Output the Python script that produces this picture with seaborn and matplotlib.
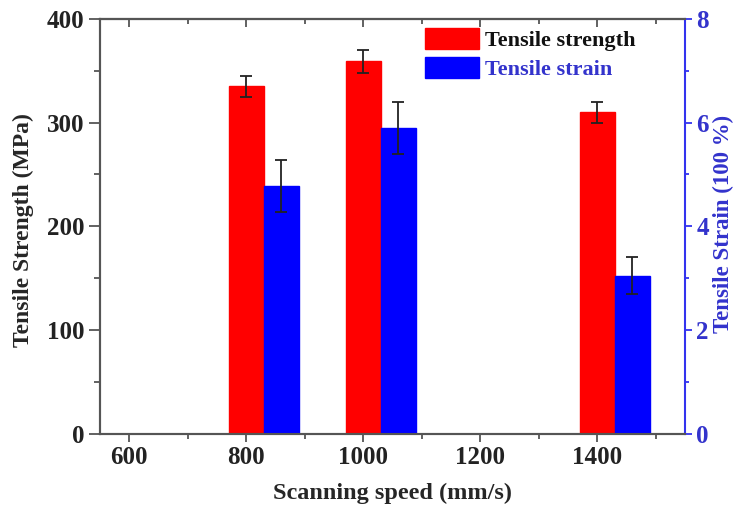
import numpy as np
import pandas as pd
import matplotlib
matplotlib.use("Agg")
import matplotlib.pyplot as plt
import seaborn as sns
from matplotlib.patches import Patch
from matplotlib.ticker import MultipleLocator

speeds = [800, 1000, 1400]
strength = [335, 359, 310]
strength_err = [10, 11, 10]
strain = [4.77, 5.9, 3.05]
strain_err = [0.5, 0.5, 0.36]
offset = 60
xticks = [600, 800, 1000, 1200, 1400]

sns.set_style("ticks")
plt.rcParams['font.family'] = ['Liberation Serif', 'DejaVu Serif']
plt.rcParams['font.weight'] = 'bold'

fig = plt.figure(figsize=(7.35, 5.08), dpi=100)
ax = fig.add_axes([0.136, 0.146, 0.796, 0.817])
ax2 = ax.twinx()

df1 = pd.DataFrame({"speed": speeds, "val": strength})
df2 = pd.DataFrame({"speed": [s + offset for s in speeds], "val": strain})

sns.barplot(data=df1, x="speed", y="val", native_scale=True, width=0.3,
            color="#ff0000", saturation=1, ax=ax, errorbar=None,
            edgecolor="#ff0000")
sns.barplot(data=df2, x="speed", y="val", native_scale=True, width=0.3,
            color="#0000ff", saturation=1, ax=ax2, errorbar=None,
            edgecolor="#0000ff")

ax.errorbar(df1["speed"], df1["val"], yerr=strength_err, fmt="none",
            ecolor="#222222", elinewidth=1.3, capsize=4, capthick=1.3)
ax2.errorbar(df2["speed"], df2["val"], yerr=strain_err, fmt="none",
             ecolor="#222222", elinewidth=1.3, capsize=4, capthick=1.3)

ax.set_xlim(550, 1550)
ax.set_ylim(0, 400)
ax2.set_ylim(0, 8)
ax.set_xticks(xticks)
ax.xaxis.set_minor_locator(MultipleLocator(100))
ax.yaxis.set_major_locator(MultipleLocator(100))
ax.yaxis.set_minor_locator(MultipleLocator(50))
ax2.yaxis.set_major_locator(MultipleLocator(2))
ax2.yaxis.set_minor_locator(MultipleLocator(1))

tick_fs = 18
ax.tick_params(axis="x", which="both", direction="out", top=False,
               labelsize=tick_fs, colors="#555555", labelcolor="#222222", width=1.3)
ax.tick_params(axis="x", which="major", length=6, pad=3)
ax.tick_params(axis="x", which="minor", length=3.5)
ax.tick_params(axis="y", which="major", direction="out", length=8, width=1.3, pad=3,
               labelsize=tick_fs, colors="#555555", labelcolor="#222222")
ax.tick_params(axis="y", which="minor", direction="out", length=4, width=1.3,
               colors="#555555")
ax2.tick_params(axis="y", which="major", direction="out", length=5, width=1.3, pad=3,
                labelsize=tick_fs, colors="#3333ee", labelcolor="#3333cc")
ax2.tick_params(axis="y", which="minor", direction="out", length=3, width=1.3,
                colors="#3333ee")

sec = ax.secondary_xaxis("top")
sec.set_xticks(xticks)
sec.xaxis.set_minor_locator(MultipleLocator(100))
sec.tick_params(axis="x", which="both", direction="in", labeltop=False,
                colors="#555555", width=1.3)
sec.tick_params(axis="x", which="major", length=6)
sec.tick_params(axis="x", which="minor", length=3.5)
sec.spines["top"].set_color("#555555")
sec.spines["top"].set_linewidth(1.5)

for sp in ["left", "bottom", "top"]:
    ax.spines[sp].set_color("#555555")
    ax.spines[sp].set_linewidth(1.5)
    ax2.spines[sp].set_color("#555555")
    ax2.spines[sp].set_linewidth(1.5)
ax2.spines["right"].set_color("#3333ee")
ax2.spines["right"].set_linewidth(1.5)
ax.spines["right"].set_visible(False)

ax.set_xlabel("Scanning speed (mm/s)", fontsize=17.5, fontweight="bold")
ax.xaxis.set_label_coords(0.5, -0.118)
ax.set_ylabel("Tensile Strength (MPa)", fontsize=17, fontweight="bold")
ax.yaxis.set_label_coords(-0.113, 0.49)
ax2.set_ylabel("Tensile Strain (100 %)", fontsize=16.5, fontweight="bold",
               color="#3333cc")
ax2.yaxis.set_label_coords(1.047, 0.505)

handles = [Patch(facecolor="#ff0000", edgecolor="#ff0000"),
           Patch(facecolor="#0000ff", edgecolor="#0000ff")]
leg = ax2.legend(handles, ["Tensile strength", "Tensile strain"],
                 loc="upper left", bbox_to_anchor=(0.556, 0.978), frameon=False,
                 handlelength=2.4, handleheight=1.1,
                 handletextpad=0.3, labelspacing=0.25, borderpad=0, borderaxespad=0,
                 prop={"family": ["Liberation Serif"], "size": 16, "weight": "bold"})
leg.get_texts()[0].set_color("#111111")
leg.get_texts()[1].set_color("#3333cc")

fig.savefig("out.png", dpi=100, facecolor="white")
